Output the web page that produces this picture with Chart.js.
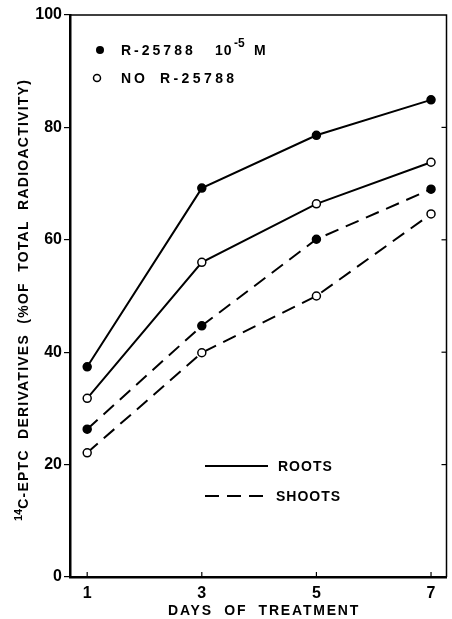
<!DOCTYPE html>
<html lang="en">
<head>
    <meta charset="UTF-8">
    <title>14C-EPTC derivatives</title>
    <script src="https://cdn.jsdelivr.net/npm/chart.js"></script>
</head>
<style>
    body { margin: 0; background: #fff; }
    .wrap { width: 452px; height: 619px; position: relative; }
</style>
<body>
    <div class="wrap">
        <canvas id="eptcChart"></canvas>
    </div>

    <script>
        // values
        var days = [1, 3, 5, 7];
        var rootsWith = [37.4, 69.2, 78.6, 84.9];
        var rootsWithout = [31.8, 56.0, 66.4, 73.8];
        var shootsWith = [26.3, 44.7, 60.1, 69.0];
        var shootsWithout = [22.1, 39.9, 50.0, 64.6];
        var xTicks = [1, 3, 5, 7];
        var yTicks = [0, 20, 40, 60, 80, 100];

        var FONT = '"Liberation Sans", Arial, sans-serif';
        var DASH = [14, 8];

        function pts(arr) {
            return days.map(function (d, i) { return { x: d, y: arr[i] }; });
        }

        function series(label, arr, filled, dashed) {
            return {
                label: label,
                data: pts(arr),
                borderColor: '#000',
                borderWidth: 2,
                borderDash: dashed ? DASH : [],
                pointRadius: 4,
                pointBorderWidth: 1.5,
                pointBackgroundColor: filled ? '#000' : '#fff',
                pointBorderColor: '#000',
                tension: 0,
                fill: false
            };
        }

        // draws text with a given letter spacing, returns its width
        function spaced(ctx, text, x, y, spacing) {
            ctx.letterSpacing = spacing + 'px';
            ctx.fillText(text, x, y);
            var w = ctx.measureText(text).width;
            ctx.letterSpacing = '0px';
            return w;
        }

        var decorations = {
            id: 'decorations',
            afterDraw: function (chart) {
                var ctx = chart.ctx;
                var area = chart.chartArea;
                var xs = chart.scales.x, ys = chart.scales.y;
                ctx.save();
                ctx.fillStyle = '#000';
                ctx.strokeStyle = '#000';

                // top and right frame
                ctx.lineWidth = 1.5;
                ctx.beginPath();
                ctx.moveTo(area.left, area.top);
                ctx.lineTo(area.right, area.top);
                ctx.lineTo(area.right, area.bottom);
                ctx.stroke();

                // inner ticks on the bottom and right
                ctx.lineWidth = 1.2;
                xTicks.forEach(function (v) {
                    var px = xs.getPixelForValue(v);
                    ctx.beginPath();
                    ctx.moveTo(px, area.bottom);
                    ctx.lineTo(px, area.bottom - 5);
                    ctx.stroke();
                });
                yTicks.slice(1, -1).forEach(function (v) {
                    var py = ys.getPixelForValue(v);
                    ctx.beginPath();
                    ctx.moveTo(area.right, py);
                    ctx.lineTo(area.right - 5, py);
                    ctx.stroke();
                });

                // y axis title
                ctx.save();
                ctx.translate(24, 300);
                ctx.rotate(-Math.PI / 2);
                ctx.textBaseline = 'middle';
                ctx.textAlign = 'left';
                var main = 'C-EPTC  DERIVATIVES  (%OF  TOTAL  RADIOACTIVITY)';
                ctx.font = 'bold 11px ' + FONT;
                var supW = ctx.measureText('14').width;
                ctx.font = 'bold 14px ' + FONT;
                ctx.letterSpacing = '1.25px';
                var mainW = ctx.measureText(main).width;
                ctx.letterSpacing = '0px';
                var start = -(supW + mainW) / 2;
                ctx.font = 'bold 11px ' + FONT;
                ctx.fillText('14', start, -5);
                ctx.font = 'bold 14px ' + FONT;
                spaced(ctx, main, start + supW, 0, 1.25);
                ctx.restore();

                // x axis title
                ctx.font = 'bold 14px ' + FONT;
                ctx.textAlign = 'left';
                ctx.textBaseline = 'middle';
                spaced(ctx, 'DAYS  OF  TREATMENT', 168, 611, 1.8);

                // marker legend
                ctx.font = 'bold 14px ' + FONT;
                ctx.lineWidth = 1.5;
                ctx.beginPath();
                ctx.arc(100, 50, 4, 0, Math.PI * 2);
                ctx.fill();
                spaced(ctx, 'R-25788', 121, 51, 3);
                spaced(ctx, '10', 215, 51, 1);
                ctx.font = 'bold 12px ' + FONT;
                ctx.fillText('-5', 234, 44);
                ctx.font = 'bold 14px ' + FONT;
                ctx.fillText('M', 254, 51);

                ctx.beginPath();
                ctx.arc(97, 78, 3.5, 0, Math.PI * 2);
                ctx.fillStyle = '#fff';
                ctx.fill();
                ctx.stroke();
                ctx.fillStyle = '#000';
                spaced(ctx, 'NO', 121, 79, 3);
                spaced(ctx, 'R-25788', 160, 79, 3.4);

                // line style legend
                ctx.lineWidth = 2;
                ctx.beginPath();
                ctx.moveTo(205, 466);
                ctx.lineTo(268, 466);
                ctx.stroke();
                ctx.setLineDash(DASH);
                ctx.beginPath();
                ctx.moveTo(205, 496);
                ctx.lineTo(268, 496);
                ctx.stroke();
                ctx.setLineDash([]);
                spaced(ctx, 'ROOTS', 278, 467, 1);
                spaced(ctx, 'SHOOTS', 276, 497, 1);

                ctx.restore();
            }
        };

        var chart = new Chart(document.getElementById('eptcChart'), {
            type: 'line',
            data: {
                datasets: [
                    series('Roots, R-25788 10-5 M', rootsWith, true, false),
                    series('Roots, no R-25788', rootsWithout, false, false),
                    series('Shoots, R-25788 10-5 M', shootsWith, true, true),
                    series('Shoots, no R-25788', shootsWithout, false, true)
                ]
            },
            options: {
                responsive: true,
                maintainAspectRatio: false,
                animation: false,
                layout: { padding: { top: 15, right: 1, left: 0, bottom: 0 } },
                plugins: {
                    legend: { display: false },
                    tooltip: { enabled: false }
                },
                scales: {
                    x: {
                        type: 'linear',
                        min: 0.7,
                        max: 7.27,
                        afterBuildTicks: function (scale) {
                            scale.ticks = xTicks.map(function (v) { return { value: v }; });
                        },
                        afterFit: function (scale) { scale.height = 42; },
                        grid: { display: false, drawTicks: false },
                        border: { color: '#000', width: 2.5 },
                        ticks: {
                            color: '#000',
                            padding: 7,
                            maxRotation: 0,
                            font: { family: FONT, size: 16, weight: 'bold' }
                        }
                    },
                    y: {
                        min: 0,
                        max: 100,
                        afterBuildTicks: function (scale) {
                            scale.ticks = yTicks.map(function (v) { return { value: v }; });
                        },
                        afterFit: function (scale) { scale.width = 70; },
                        grid: { drawOnChartArea: false, tickLength: 6, color: '#000', lineWidth: 1.2 },
                        border: { color: '#000', width: 2.5 },
                        ticks: {
                            color: '#000',
                            padding: 2,
                            font: { family: FONT, size: 16, weight: 'bold' }
                        }
                    }
                }
            },
            plugins: [decorations]
        });
    </script>
</body>
</html>
